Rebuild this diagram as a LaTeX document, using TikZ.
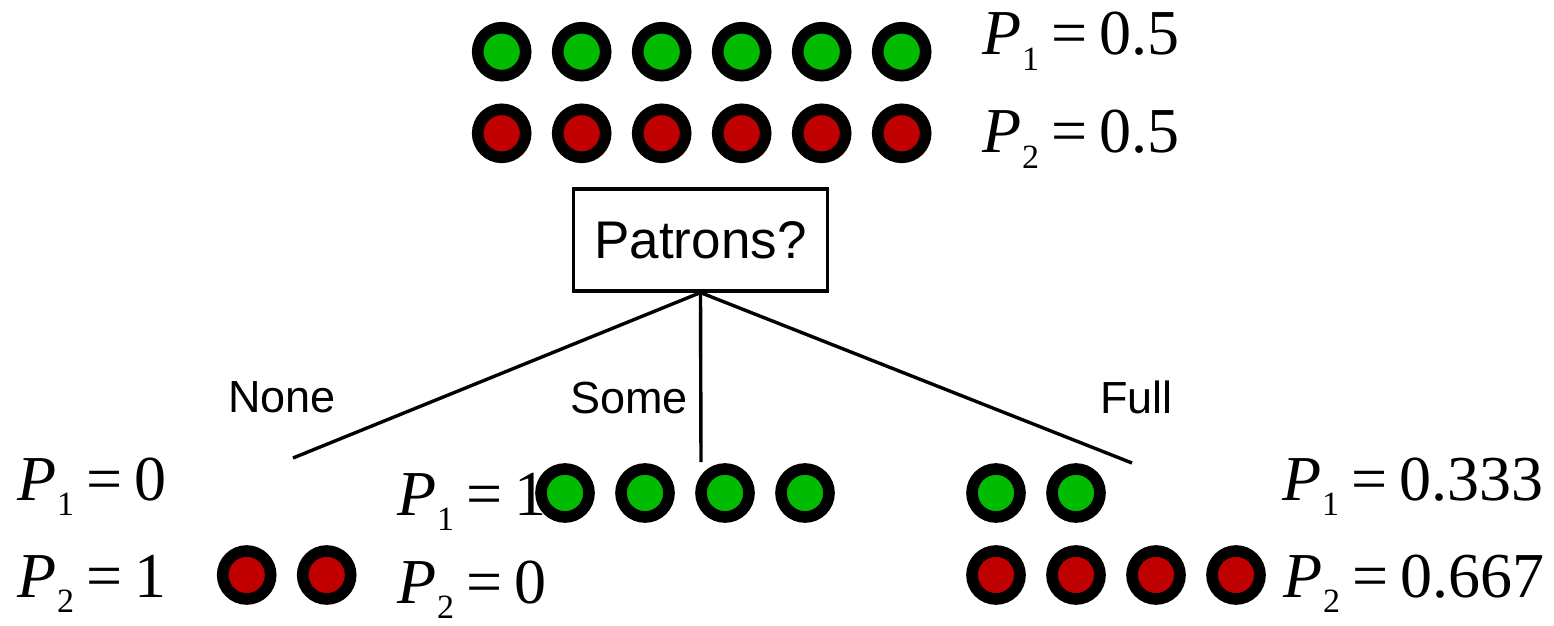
\documentclass[tikz,border=0pt]{standalone}
\usepackage{fontspec}
\setmainfont{Liberation Serif}
\newfontfamily\lsans{Liberation Sans}
\definecolor{dotgreen}{RGB}{0,187,0}
\definecolor{dotred}{RGB}{192,0,0}
\newcommand{\peq}[2]{\fontsize{32}{32}\selectfont\textit{P}\kern0.01em\raisebox{-0.24em}{\fontsize{17}{17}\selectfont #1}\hspace{0.2em}=\hspace{0.18em}#2}
\begin{document}
\begin{tikzpicture}[x=0.5pt,y=-0.5pt,
  ring/.style={circle,draw=black,line width=5.8pt,minimum size=24pt,inner sep=0pt},
  gdot/.style={ring,fill=dotgreen},
  rdot/.style={ring,fill=dotred},
  eqn/.style={anchor=base west,inner sep=0pt},
  blabel/.style={anchor=base west,inner sep=0pt,font=\lsans\fontsize{22.5}{22.5}\selectfont},
  conn/.style={line width=1.7pt}]
\useasboundingbox (0,0) rectangle (1554,626);
% top row
\foreach \i in {1,...,6}{
  \node[gdot] (tg\i) at ({501.7+80*(\i-1)},51.7) {};
  \node[rdot] (tr\i) at ({501.7+80*(\i-1)},133.3) {};
}
\node[eqn] (tp1) at (982,55) {\peq{1}{0.5}};
\node[eqn] (tp2) at (982,153) {\peq{2}{0.5}};
% test box
\node[draw=black,line width=1.6pt,minimum width=127pt,minimum height=51pt,inner sep=0pt,
  font=\lsans\fontsize{26.5}{26.5}\selectfont] (box) at (700.5,240) {Patrons?};
% ends
\coordinate (eL) at (293,458);
\coordinate (eM) at (701,462);
\coordinate (eR) at (1132,463);
\draw[conn] (box.south) -- (eL);
\draw[conn] (box.south) -- (eM);
\draw[conn] (box.south) -- (eR);
\node[blabel] (lnone) at (228,412) {None};
\node[blabel] (lsome) at (570,413) {Some};
\node[blabel] (lfull) at (1100,413) {Full};
% left
\node[rdot] (lr1) at (246.7,575) {};
\node[rdot] (lr2) at (326.7,575) {};
\node[eqn] (lp1) at (17,500) {\peq{1}{0}};
\node[eqn] (lp2) at (17,597) {\peq{2}{1}};
% middle
\foreach \i in {1,...,4}{
  \node[gdot] (mg\i) at ({565+80*(\i-1)},493) {};
}
\node[eqn] (mp1) at (397,515) {\peq{1}{1}};
\node[eqn] (mp2) at (397,603) {\peq{2}{0}};
% right
\node[gdot] (rg1) at (996,493) {};
\node[gdot] (rg2) at (1076,493) {};
\foreach \i in {1,...,4}{
  \node[rdot] (rr\i) at ({996+80*(\i-1)},575) {};
}
\node[eqn] (rp1) at (1282,500) {\peq{1}{0.333}};
\node[eqn] (rp2) at (1283,597) {\peq{2}{0.667}};
\end{tikzpicture}
\end{document}
